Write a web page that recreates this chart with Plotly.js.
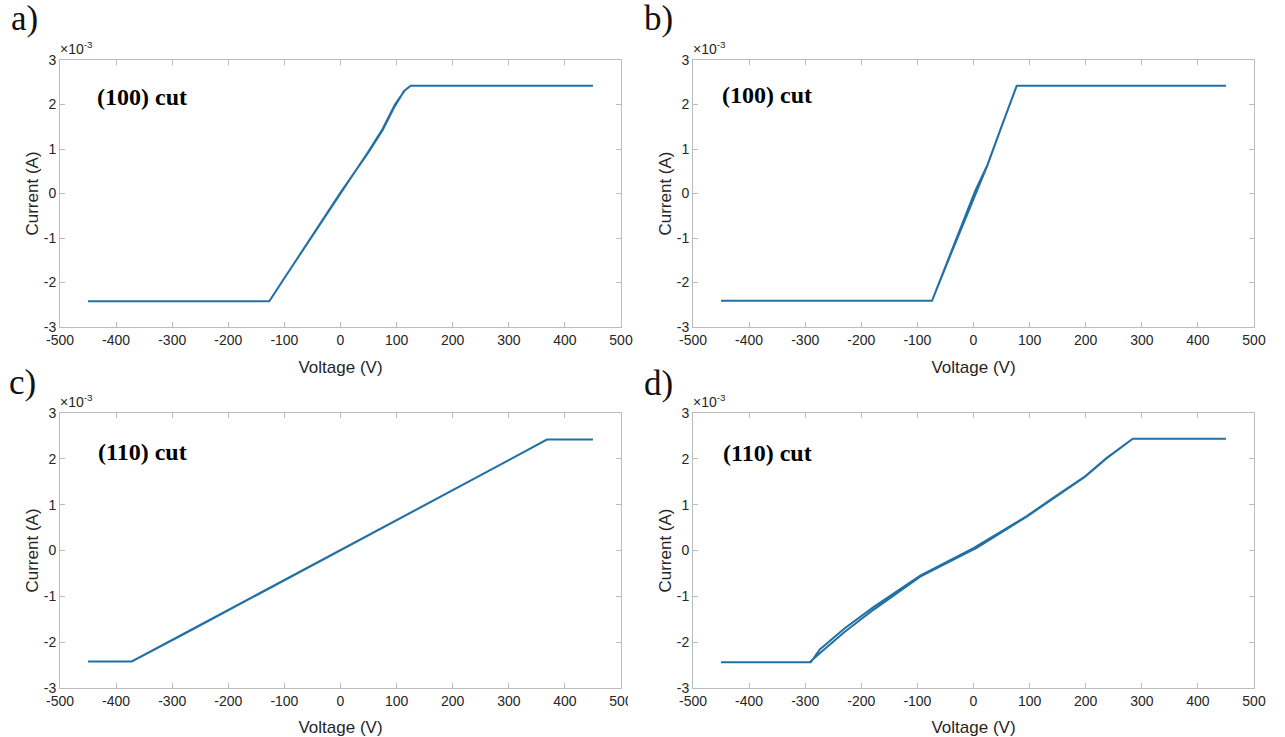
<!DOCTYPE html>
<html>
<head>
<meta charset="utf-8">
<script src="https://cdn.plot.ly/plotly-3.0.1.min.js"></script>
<style>html,body{margin:0;padding:0;background:#fff;}#chart{width:1285px;height:737px;}</style>
</head>
<body>
<div id="chart"></div>
<script>
// Voltage (V) and current (x10^-3 A), forward sweep then return sweep
const voltageA = [-450, -127, -100, -72, -30, 0, 50, 75, 97, 115, 125, 450, 125, 113, 95, 75, 50, 0, -30, -72, -100, -127, -450];
const currentA = [-2.42, -2.42, -1.90, -1.37, -0.57, 0.00, 0.95, 1.45, 2.00, 2.32, 2.42, 2.42, 2.42, 2.30, 1.92, 1.42, 0.93, 0.02, -0.55, -1.35, -1.88, -2.42, -2.42];

const voltageB = [-450, -74, -40, -3, 5, 25, 50, 77, 450, 77, 50, 25, 3, -40, -74, -450];
const currentB = [-2.41, -2.41, -1.35, -0.22, 0.05, 0.64, 1.50, 2.42, 2.42, 2.42, 1.51, 0.65, 0.06, -1.34, -2.41, -2.41];

const voltageC = [-450, -372, -265, -150, 0, 150, 300, 368, 450, 368, 300, 150, 0, -150, -255, -372, -450];
const currentC = [-2.42, -2.42, -1.73, -0.98, 0.00, 0.98, 1.97, 2.42, 2.42, 2.42, 1.97, 0.99, 0.01, -0.97, -1.65, -2.42, -2.42];

const voltageD = [-450, -292, -274, -230, -179, -95, -5, 5, 95, 142, 199, 237, 284, 450, 284, 237, 199, 142, 95, 0, -95, -179, -230, -274, -290, -450];
const currentD = [-2.44, -2.44, -2.24, -1.78, -1.30, -0.57, -0.01, 0.05, 0.74, 1.14, 1.61, 2.01, 2.44, 2.44, 2.44, 2.02, 1.62, 1.15, 0.75, 0.05, -0.55, -1.24, -1.70, -2.16, -2.44, -2.44];

const xTicks = [-500, -400, -300, -200, -100, 0, 100, 200, 300, 400, 500];
const yTicks = [-3, -2, -1, 0, 1, 2, 3];
const panelLetters = ['a)', 'b)', 'c)', 'd)'];
const cutLabels = ['(100) cut', '(100) cut', '(110) cut', '(110) cut'];
const xTitle = 'Voltage (V)';
const yTitle = 'Current (A)';
const exponentLabel = '\u00d710<sup>-3</sup>';

const W = 1285, H = 737;
const lineColor = '#2270a4';
const axisColor = '#bcbcbc';
const textColor = '#262626';

const boxes = [
  {x0: 60, x1: 621, y0: 60, y1: 327},
  {x0: 693, x1: 1254, y0: 60, y1: 327},
  {x0: 60, x1: 621, y0: 413, y1: 688},
  {x0: 693, x1: 1254, y0: 413, y1: 688}
];
const letterPos = [[24, 19], [659, 19], [22, 382], [659, 384]];
const cutPos = [[142, 97], [767, 95], [142, 452], [767, 453]];

const dataSets = [[voltageA, currentA], [voltageB, currentB], [voltageC, currentC], [voltageD, currentD]];

const traces = dataSets.map((d, i) => ({
  x: d[0], y: d[1], type: 'scatter', mode: 'lines',
  line: {color: lineColor, width: 2},
  xaxis: 'x' + (i === 0 ? '' : i + 1),
  yaxis: 'y' + (i === 0 ? '' : i + 1),
  showlegend: false, hoverinfo: 'skip'
}));

const layout = {
  width: W, height: H,
  margin: {l: 0, r: 0, t: 0, b: 0},
  paper_bgcolor: '#fff', plot_bgcolor: '#fff',
  showlegend: false,
  font: {family: 'Liberation Sans, Arial, sans-serif', size: 14, color: textColor},
  annotations: [], shapes: []
};

boxes.forEach((b, i) => {
  const sx = i === 0 ? '' : String(i + 1);
  layout['xaxis' + sx] = {
    domain: [b.x0 / W, b.x1 / W], anchor: 'y' + sx,
    range: [-500, 500], tickvals: xTicks, ticktext: xTicks.map(String),
    ticks: 'inside', ticklen: 5, tickcolor: axisColor, tickwidth: 1,
    showline: true, linecolor: axisColor, linewidth: 1, mirror: 'ticks',
    showgrid: false, zeroline: false,
    tickfont: {size: 14, color: textColor},
    title: {text: xTitle, font: {size: 17, color: textColor}, standoff: 14}
  };
  layout['yaxis' + sx] = {
    domain: [1 - b.y1 / H, 1 - b.y0 / H], anchor: 'x' + sx,
    range: [-3, 3], tickvals: yTicks, ticktext: yTicks.map(String),
    ticks: 'inside', ticklen: 5, tickcolor: axisColor, tickwidth: 1,
    showline: true, linecolor: axisColor, linewidth: 1, mirror: 'ticks',
    showgrid: false, zeroline: false,
    tickfont: {size: 14, color: textColor},
    title: {text: yTitle, font: {size: 17, color: textColor}, standoff: 0}
  };
  layout.annotations.push({
    xref: 'paper', yref: 'paper', x: (b.x0 - 2) / W, y: 1 - (b.y0 - 1) / H,
    xanchor: 'left', yanchor: 'bottom', showarrow: false,
    text: exponentLabel, font: {size: 14, color: textColor}
  });
  layout.annotations.push({
    xref: 'paper', yref: 'paper', x: letterPos[i][0] / W, y: 1 - letterPos[i][1] / H,
    xanchor: 'center', yanchor: 'middle', showarrow: false,
    text: panelLetters[i], font: {family: 'Liberation Serif, Times New Roman, serif', size: 35, color: '#111'}
  });
  layout.annotations.push({
    xref: 'paper', yref: 'paper', x: cutPos[i][0] / W, y: 1 - cutPos[i][1] / H,
    xanchor: 'center', yanchor: 'middle', showarrow: false,
    text: '<b>' + cutLabels[i] + '</b>', font: {family: 'Liberation Serif, Times New Roman, serif', size: 24, color: '#000'}
  });
});

// crop of panel c's last tick label, as in the source image
layout.shapes.push({type: 'rect', xref: 'paper', yref: 'paper', layer: 'above',
  x0: 628 / W, x1: 642 / W, y0: 1 - 715 / H, y1: 1 - 693 / H,
  fillcolor: '#fff', line: {width: 0}});

Plotly.newPlot('chart', traces, layout, {staticPlot: true, displayModeBar: false});
</script>
</body>
</html>
